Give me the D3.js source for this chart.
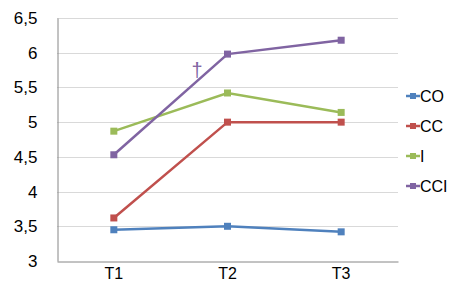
<!DOCTYPE html>
<html>
<head>
<meta charset="utf-8">
<script src="https://cdn.jsdelivr.net/npm/d3@7"></script>
<style>
  body { margin: 0; background: #fff; }
  svg { font-family: "Liberation Sans", Arial, sans-serif; }
</style>
</head>
<body>
<svg id="chart" width="449" height="284"></svg>
<script>
// data
const categories = ["T1", "T2", "T3"];
const seriesNames = ["CO", "CC", "I", "CCI"];
const seriesColors = ["#4F81BD", "#C0504D", "#9BBB59", "#8064A2"];
const coValues = [3.45, 3.5, 3.42];
const ccValues = [3.62, 5.0, 5.0];
const iValues = [4.87, 5.42, 5.14];
const cciValues = [4.53, 5.98, 6.18];
const yTicks = [3, 3.5, 4, 4.5, 5, 5.5, 6, 6.5];

const allValues = [coValues, ccValues, iValues, cciValues];
const series = seriesNames.map((name, i) => ({ name, color: seriesColors[i], values: allValues[i] }));

const svg = d3.select("#chart"),
      margin = { top: 18, right: 51, bottom: 23, left: 57 },
      width = +svg.attr("width"),
      height = +svg.attr("height");

const x = d3.scaleBand()
  .domain(categories)
  .range([margin.left, width - margin.right]);

const y = d3.scaleLinear()
  .domain([3, 6.5])
  .range([height - margin.bottom, margin.top]);

const fmt = d => String(d).replace(".", ",");

// gridlines
svg.append("g")
  .selectAll("line")
  .data(yTicks.slice(1))
  .enter().append("line")
  .attr("x1", margin.left)
  .attr("x2", width - margin.right)
  .attr("y1", d => Math.round(y(d)) + 0.5)
  .attr("y2", d => Math.round(y(d)) + 0.5)
  .attr("stroke", "#D9D9D9")
  .attr("stroke-width", 1);

// Y axis
const yAxis = svg.append("g")
  .attr("transform", `translate(${margin.left + 0.5},0)`)
  .call(d3.axisLeft(y).tickValues(yTicks).tickFormat(fmt).tickSize(0).tickPadding(20));
yAxis.select(".domain").attr("stroke", "#868686");
yAxis.selectAll("text").style("font-size", "17px").attr("fill", "#000");

// X axis
const xAxis = svg.append("g")
  .attr("transform", `translate(0,${Math.round(height - margin.bottom) + 0.5})`)
  .call(d3.axisBottom(x).tickSize(0).tickPadding(6));
xAxis.select(".domain").attr("stroke", "#868686");
xAxis.selectAll("text").style("font-size", "16px").attr("fill", "#000");

const cx = d => x(d) + x.bandwidth() / 2;

const line = d3.line()
  .x((v, i) => cx(categories[i]))
  .y(v => y(v));

// lines and markers
series.forEach(s => {
  svg.append("path")
    .datum(s.values)
    .attr("fill", "none")
    .attr("stroke", s.color)
    .attr("stroke-width", 2.5)
    .attr("d", line);

  svg.selectAll(null)
    .data(s.values)
    .enter().append("rect")
    .attr("x", (v, i) => cx(categories[i]) - 3.5)
    .attr("y", v => y(v) - 3.5)
    .attr("width", 7)
    .attr("height", 7)
    .attr("fill", s.color);
});

// dagger annotation on CCI between T1 and T2
svg.append("text")
  .attr("x", 197)
  .attr("y", 77)
  .attr("text-anchor", "middle")
  .style("font-size", "20px")
  .attr("fill", "#8064A2")
  .text("†");

// legend
const legend = svg.append("g");
series.forEach((s, i) => {
  const ly = 96 + i * 30;
  legend.append("line")
    .attr("x1", 406).attr("x2", 420)
    .attr("y1", ly).attr("y2", ly)
    .attr("stroke", s.color)
    .attr("stroke-width", 2.5);
  legend.append("rect")
    .attr("x", 410).attr("y", ly - 3)
    .attr("width", 6).attr("height", 6)
    .attr("fill", s.color);
  legend.append("text")
    .attr("x", 420)
    .attr("y", ly)
    .attr("dy", "0.35em")
    .style("font-size", "16px")
    .text(s.name);
});
</script>
</body>
</html>
